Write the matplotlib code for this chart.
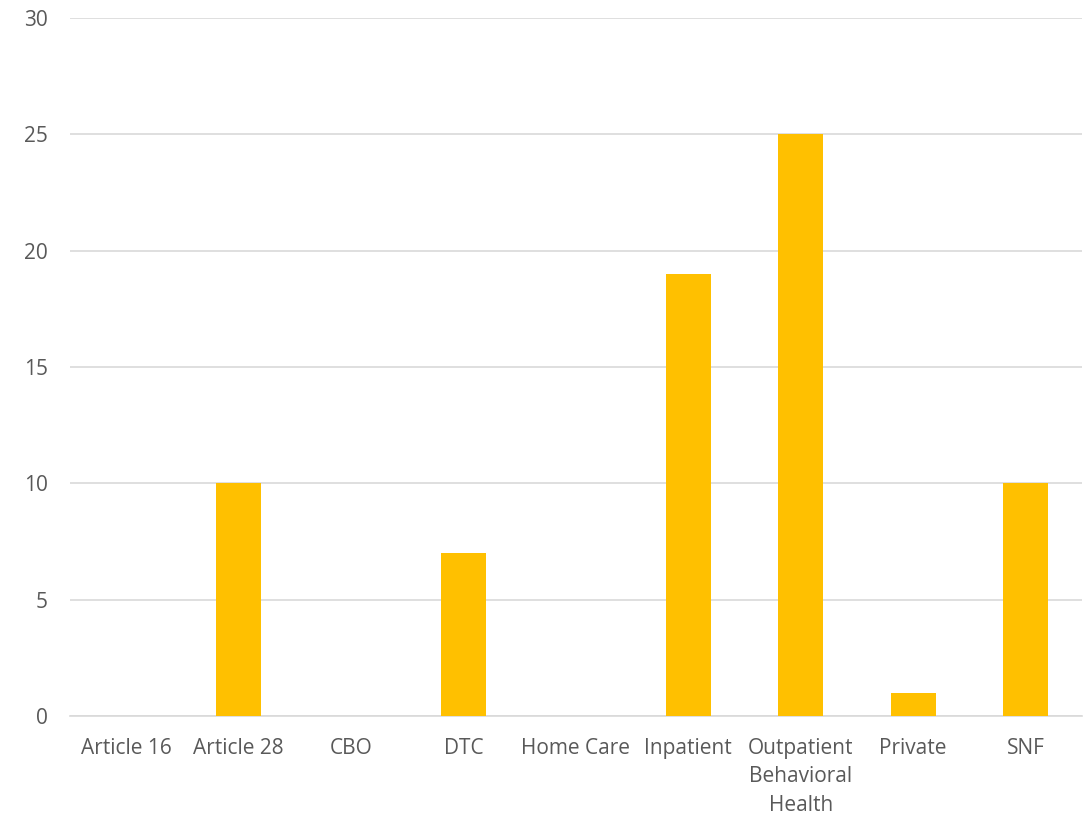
import matplotlib
matplotlib.use('Agg')
import matplotlib.pyplot as plt
import numpy as np

plt.rcParams['font.family'] = ['Open Sans', 'DejaVu Sans']

categories = ['Article 16', 'Article 28', 'CBO', 'DTC', 'Home Care', 'Inpatient',
              'Outpatient\nBehavioral\nHealth', 'Private', 'SNF']
counts = [0, 10, 0, 7, 0, 19, 25, 1, 10]
yticks = [0, 5, 10, 15, 20, 25, 30]

fig = plt.figure(figsize=(10.85, 8.18), dpi=100)
ax = fig.add_axes([0.0645, 0.1247, 0.9325, 0.8533])

x = np.arange(len(categories))
ax.bar(x, counts, width=0.4, color='#FFC000', zorder=3)

ax.set_xlim(-0.5, len(categories) - 0.5)
ax.set_ylim(0, 30)
ax.set_yticks(yticks)
ax.set_xticks(x)
ax.set_xticklabels(categories, linespacing=1.45, va='top')

ax.grid(axis='y', color='#D9D9D9', linewidth=1.2, zorder=0)
for s in ['top', 'right', 'left']:
    ax.spines[s].set_visible(False)
ax.spines['bottom'].set_color('#D9D9D9')
ax.spines['bottom'].set_linewidth(1.2)

ax.tick_params(axis='both', length=0, labelsize=15, colors='#595959')
ax.tick_params(axis='y', pad=16)
ax.tick_params(axis='x', pad=16)

fig.savefig('out.png', dpi=100)
